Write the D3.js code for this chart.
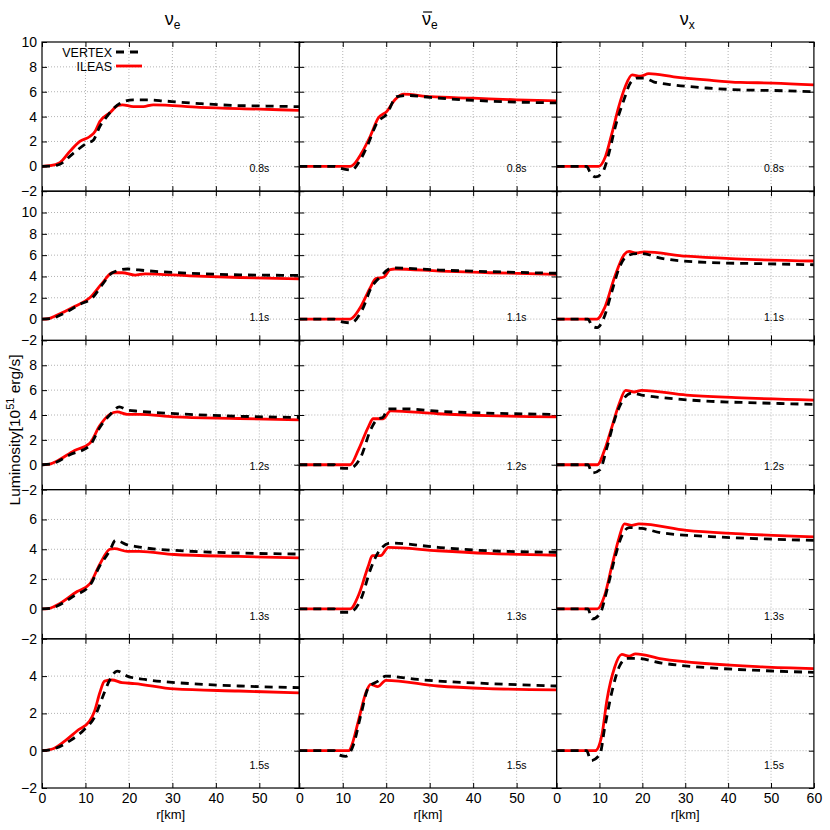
<!DOCTYPE html>
<html>
<head>
<meta charset="utf-8">
<script src="https://cdn.jsdelivr.net/npm/d3@7"></script>
<style>
body { margin: 0; background: #fff; }
text { font-family: "Liberation Sans", Arial, sans-serif; }
</style>
</head>
<body>
<div id="content" style="width:830px;height:830px"></div>
<script>
var times = ["0.8s", "1.1s", "1.2s", "1.3s", "1.5s"];
var flavors = ["e", "ebar", "x"];
var yDomains = [[-2, 10], [-2, 12], [-2, 10], [-2, 8], [-2, 6]];
var yTicks = [[-2, 0, 2, 4, 6, 8, 10], [-2, 0, 2, 4, 6, 8, 10], [-2, 0, 2, 4, 6, 8], [-2, 0, 2, 4, 6], [-2, 0, 2, 4]];
var xMax = [59.2, 59.2, 60];
var xTicks = [[0, 10, 20, 30, 40, 50], [0, 10, 20, 30, 40, 50], [0, 10, 20, 30, 40, 50, 60]];

// [r km, luminosity 1e51 erg/s], one list per time
var vertexNue = [
    [[0,0],[2,0.02],[4,0.15],[7.2,1.05],[10.3,1.85],[11.8,2.1],[13.3,3.2],[14.9,4.0],[17.9,5.05],[21,5.35],[24.5,5.35],[28.3,5.25],[36.3,5.05],[44,4.9],[51.6,4.85],[59.2,4.8]],
    [[0,0],[2,0.05],[5.3,0.6],[8.7,1.38],[11.6,2.0],[13.9,3.25],[16.2,4.35],[19.7,4.7],[23.7,4.55],[34,4.3],[45.5,4.15],[59.2,4.1]],
    [[0,0],[2,0.05],[6.4,0.8],[11,1.55],[13.3,3.0],[15.6,4.0],[17.8,4.65],[19.6,4.4],[22.4,4.3],[33.9,4.05],[45.3,3.9],[59.2,3.8]],
    [[0,0],[2,0.05],[7.5,0.9],[11,1.57],[13.3,2.9],[15.6,3.9],[16.9,4.6],[19.6,4.3],[22.4,4.15],[33.9,3.87],[45.3,3.75],[59.2,3.68]],
    [[0,0],[2,0.05],[6.4,0.53],[9.8,1.15],[12.1,1.8],[13.9,2.85],[15.6,3.8],[17.3,4.27],[19.6,4.0],[23.7,3.82],[33.9,3.6],[45.3,3.47],[59.2,3.38]]
];
var ileasNue = [
    [[0,0],[1.8,0.05],[4.1,0.3],[6.4,1.2],[8.7,2.0],[11,2.4],[12.2,2.8],[13.3,3.6],[15.6,4.3],[17.5,4.9],[18.5,4.95],[21,4.8],[23.3,4.8],[25.6,4.95],[36.3,4.75],[50.1,4.6],[59.2,4.5]],
    [[0,0],[1.5,0.03],[3,0.28],[7.6,1.2],[11,2.0],[13.9,3.4],[16.2,4.35],[18.5,4.35],[21.4,4.13],[23.7,4.25],[34,4.05],[45.5,3.9],[59.2,3.78]],
    [[0,0],[1.5,0.03],[3,0.22],[7.5,1.15],[11,1.73],[13.3,3.15],[15.6,4.05],[17.3,4.25],[19.6,4.05],[22.4,4.05],[30.4,3.85],[45.3,3.72],[59.2,3.6]],
    [[0,0],[1.5,0.03],[3,0.19],[8.1,1.17],[11,1.68],[13.3,3.0],[15.6,4.0],[16.7,4.05],[19.6,3.86],[22.4,3.86],[30.4,3.65],[45.3,3.52],[59.2,3.42]],
    [[0,0],[2.4,0.09],[5.3,0.53],[8.1,1.07],[11,1.6],[12.1,2.13],[13.3,3.11],[14.4,3.73],[16.1,3.79],[18.4,3.65],[21.3,3.6],[30.4,3.31],[45.3,3.2],[59.2,3.1]]
];
var vertexNuebar = [
    [[0,0],[8,0],[9.4,-0.15],[12,-0.3],[14,0.5],[15.9,1.85],[17.8,3.45],[20.1,4.2],[22.4,5.6],[25,5.7],[30,5.55],[37.7,5.35],[46.9,5.2],[59.2,5.1]],
    [[0,0],[8,0],[9.3,-0.2],[11.9,-0.35],[14.5,0.9],[16.5,2.9],[18.6,3.95],[21.4,4.8],[32.3,4.6],[43.8,4.45],[59.2,4.3]],
    [[0,0],[8,0],[9,-0.27],[11.5,-0.3],[14.2,0.65],[16.4,2.8],[18.1,3.7],[19.2,3.8],[20.5,4.5],[23.9,4.5],[31.9,4.3],[43.4,4.15],[59.2,4.05]],
    [[0,0],[8,0],[9,-0.22],[11.5,-0.22],[14.2,0.67],[16.4,2.67],[18.4,3.9],[21,4.42],[31.9,4.13],[43.4,3.9],[59.2,3.8]],
    [[0,0],[8,0],[8.9,-0.2],[10.7,-0.3],[12.5,0.35],[14.2,1.95],[15.9,3.38],[18.1,3.73],[19.9,4.0],[27.3,3.82],[43.4,3.6],[59.2,3.47]]
];
var ileasNuebar = [
    [[0,0],[11.7,0],[12.5,0.15],[14.3,1.05],[16.3,2.4],[18.2,3.9],[20.1,4.4],[22,5.35],[23.9,5.8],[30.1,5.6],[40,5.48],[50,5.35],[59.2,5.27]],
    [[0,0],[11.7,0],[14,1.06],[16.3,2.93],[17.6,3.8],[19.5,3.95],[20.9,4.65],[22,4.7],[32.3,4.5],[43.8,4.35],[59.2,4.2]],
    [[0,0],[11.7,0],[13.6,1.2],[15.9,3.05],[17,3.7],[19.3,3.7],[21,4.33],[31.9,4.1],[43.4,3.95],[59.2,3.85]],
    [[0,0],[11.7,0],[13.6,0.9],[15.9,2.9],[16.8,3.57],[18.7,3.57],[20.5,4.13],[31.9,3.9],[43.4,3.72],[59.2,3.6]],
    [[0,0],[11.5,0],[11.9,0.18],[13.6,1.6],[15.3,3.1],[16.4,3.56],[18.1,3.44],[19.9,3.77],[31.9,3.47],[43.4,3.33],[59.2,3.26]]
];
var vertexNux = [
    [[0,0],[7,0],[7.9,-0.55],[9,-0.85],[10.6,-0.55],[12.2,1.05],[13.7,3.2],[15.7,5.35],[17.2,6.7],[18.8,7.1],[20.3,7.1],[22.6,6.8],[27.3,6.55],[35,6.3],[42.8,6.15],[50.5,6.1],[60,6.0]],
    [[0,0],[7.3,0],[8.3,-0.65],[9.5,-0.8],[11,0.1],[12.9,2.6],[14.6,4.8],[16.4,5.9],[18.6,6.15],[19.8,6.15],[24.5,5.7],[36,5.3],[47.6,5.2],[60,5.1]],
    [[0,0],[7.3,0],[8.3,-0.67],[10.1,-0.4],[11.8,1.46],[13.5,3.6],[15.2,5.05],[17.5,5.77],[19.8,5.6],[24.5,5.4],[36,5.1],[47.6,4.97],[60,4.85]],
    [[0,0],[7.3,0],[8.3,-0.67],[10.1,-0.33],[11.8,1.33],[13.5,3.33],[15.2,4.9],[16.9,5.45],[19.8,5.4],[24.5,5.1],[36,4.85],[47.6,4.7],[60,4.6]],
    [[0,0],[7,0],[8,-0.53],[10.1,-0.2],[11.2,1.2],[12.9,3.16],[14.6,4.5],[16.4,4.95],[18.6,4.95],[24.5,4.7],[36,4.44],[47.6,4.3],[60,4.2]]
];
var ileasNux = [
    [[0,0],[9.8,0],[11.4,0.8],[12.9,2.65],[14.5,4.8],[16,6.4],[17.6,7.35],[19.5,7.25],[21.5,7.45],[27.3,7.2],[35,6.95],[42.8,6.75],[50.5,6.7],[60,6.55]],
    [[0,0],[9.4,0],[11.2,1.06],[13.5,3.9],[15.8,6.07],[16.9,6.35],[18.6,6.2],[20.4,6.3],[30.3,5.9],[41.8,5.65],[60,5.45]],
    [[0,0],[9.5,0],[11.2,1.2],[12.9,3.05],[14.6,4.9],[16.1,5.98],[18.1,5.85],[19.8,5.98],[30.3,5.6],[41.8,5.4],[60,5.2]],
    [[0,0],[9.5,0],[11.2,0.9],[12.9,2.9],[14.6,4.8],[15.8,5.7],[17.5,5.6],[19.2,5.7],[30.3,5.27],[41.8,5.05],[60,4.83]],
    [[0,0],[9,0],[10.6,0.89],[11.7,2.67],[13.5,4.45],[15.2,5.16],[16.9,5.07],[18.4,5.19],[24.5,4.92],[36,4.65],[47.6,4.5],[60,4.4]]
];

var vertex = [vertexNue, vertexNuebar, vertexNux];
var ileas = [ileasNue, ileasNuebar, ileasNux];

var width = 830, height = 830;
var marginLeft = 42, marginTop = 42, colW = 257.3, rowH = 149.2;

var svg = d3.select("#content").append("svg")
    .attr("width", width).attr("height", height)
    .attr("viewBox", [0, 0, width, height]);

var line = d3.line().curve(d3.curveMonotoneX);

times.forEach(function(t, row) {
    flavors.forEach(function(f, col) {
        var x0 = marginLeft + col * colW, y0 = marginTop + row * rowH;
        var x = d3.scaleLinear().domain([0, xMax[col]]).range([x0, x0 + colW]);
        var y = d3.scaleLinear().domain(yDomains[row]).range([y0 + rowH, y0]);
        var g = svg.append("g");
        var clipId = "clip" + row + "_" + col;
        g.append("clipPath").attr("id", clipId)
            .append("rect").attr("x", x0).attr("y", y0).attr("width", colW).attr("height", rowH);

        // dotted grid
        g.selectAll(".gx").data(xTicks[col].filter(function(v) { return v > 0 && v < xMax[col]; }))
            .enter().append("line")
            .attr("x1", x).attr("x2", x).attr("y1", y0).attr("y2", y0 + rowH)
            .attr("stroke", "#a0a0a0").attr("stroke-width", 0.8).attr("stroke-dasharray", "1,2");
        g.selectAll(".gy").data(yTicks[row].filter(function(v) { return v > yDomains[row][0] && v < yDomains[row][1]; }))
            .enter().append("line")
            .attr("y1", y).attr("y2", y).attr("x1", x0).attr("x2", x0 + colW)
            .attr("stroke", "#a0a0a0").attr("stroke-width", 0.8).attr("stroke-dasharray", "1,2");

        // axes with inward ticks on all sides
        var ax = function(axis, tr, labels) {
            var a = g.append("g").attr("transform", tr)
                .call(axis.tickSizeInner(-5).tickSizeOuter(0).tickPadding(labels ? 5 : 3)
                    .tickFormat(labels ? d3.format("d") : ""));
            a.select(".domain").remove();
            a.selectAll("line").attr("stroke", "#000").attr("stroke-width", 1);
            a.selectAll("text").attr("font-size", 14).attr("fill", "#000")
                .attr("font-family", "Liberation Sans, Arial, sans-serif");
        };
        ax(d3.axisLeft(y).tickValues(yTicks[row]), "translate(" + x0 + ",0)", col === 0);
        ax(d3.axisRight(y).tickValues(yTicks[row]), "translate(" + (x0 + colW) + ",0)", false);
        ax(d3.axisBottom(x).tickValues(xTicks[col]), "translate(0," + (y0 + rowH) + ")", row === times.length - 1);
        ax(d3.axisTop(x).tickValues(xTicks[col]), "translate(0," + y0 + ")", false);

        var lines = g.append("g").attr("clip-path", "url(#" + clipId + ")");
        lines.append("path").datum(ileas[col][row].map(function(d) { return [x(d[0]), y(d[1])]; }))
            .attr("d", line).attr("fill", "none")
            .attr("stroke", "#ff0000").attr("stroke-width", 2.8);
        lines.append("path").datum(vertex[col][row].map(function(d) { return [x(d[0]), y(d[1])]; }))
            .attr("d", line).attr("fill", "none")
            .attr("stroke", "#000").attr("stroke-width", 2.8).attr("stroke-dasharray", "8,6");

        g.append("rect").attr("x", x0).attr("y", y0).attr("width", colW).attr("height", rowH)
            .attr("fill", "none").attr("stroke", "#000").attr("stroke-width", 1.2);

        g.append("text").attr("x", x0 + colW - 30).attr("y", y0 + 130)
            .attr("text-anchor", "end").attr("font-size", 10.5).text(t);

        if (row === times.length - 1) {
            g.append("text").attr("x", x0 + colW / 2).attr("y", y0 + rowH + 31)
                .attr("text-anchor", "middle").attr("font-size", 13).text("r[km]");
        }
    });
});

// column titles
flavors.forEach(function(f, col) {
    var cx = marginLeft + col * colW + colW / 2 + 2;
    var tx = svg.append("text").attr("x", cx).attr("y", 25).attr("text-anchor", "middle");
    tx.append("tspan").attr("font-size", 18).text("ν");
    tx.append("tspan").attr("font-size", 12).attr("dy", 4).text(f === "x" ? "x" : "e");
    if (f === "ebar") {
        var b = tx.node().getBBox();
        svg.append("line").attr("x1", b.x + 1).attr("x2", b.x + 10)
            .attr("y1", b.y + 3).attr("y2", b.y + 3)
            .attr("stroke", "#000").attr("stroke-width", 1.2);
    }
});

// y label
var yl = svg.append("text").attr("transform", "translate(20,430) rotate(-90)")
    .attr("text-anchor", "middle").attr("font-size", 15.5);
yl.append("tspan").text("Luminosity[10");
yl.append("tspan").attr("font-size", 11).attr("dy", -6).text("51");
yl.append("tspan").attr("dy", 6).text(" erg/s]");

// legend
var legend = [["VERTEX", "#000", "8,6"], ["ILEAS", "#ff0000", null]];
legend.forEach(function(l, i) {
    var ly = 52 + i * 14;
    svg.append("text").attr("x", 112).attr("y", ly + 4.5).attr("text-anchor", "end")
        .attr("font-size", 12.5).text(l[0]);
    svg.append("line").attr("x1", 116).attr("x2", 142).attr("y1", ly).attr("y2", ly)
        .attr("stroke", l[1]).attr("stroke-width", 2.8)
        .attr("stroke-dasharray", l[2]);
});
</script>
</body>
</html>
